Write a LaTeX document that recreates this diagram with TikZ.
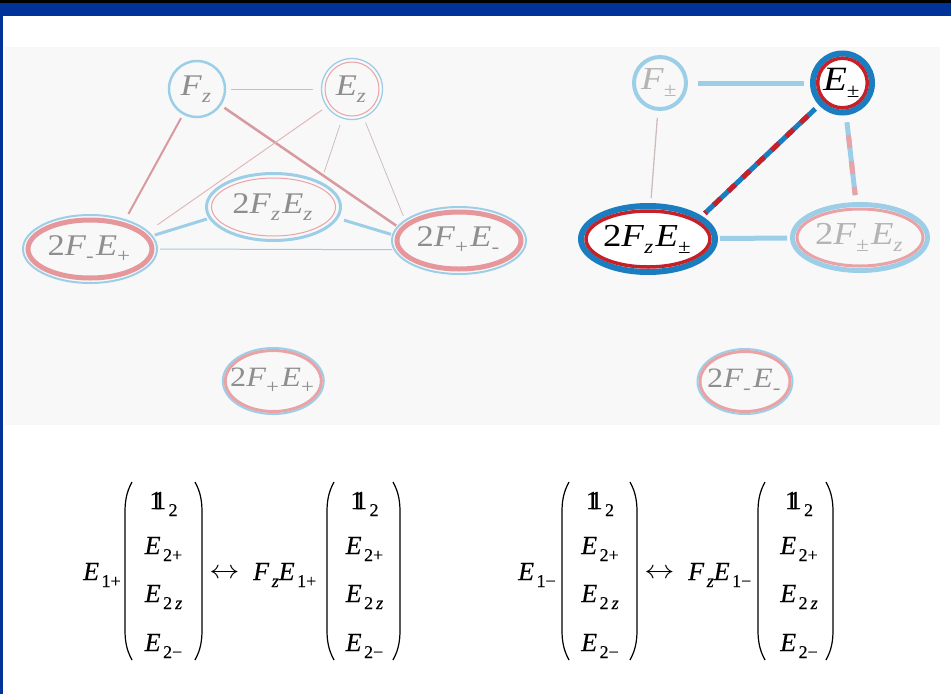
\documentclass[tikz,border=0pt]{standalone}
\usepackage{fontspec}
\setmainfont{Liberation Serif}
\newfontfamily\formfont[FakeBold=0.25]{Liberation Serif}
\usepackage{graphicx}
\IfFileExists{dsfont.sty}{\usepackage{dsfont}\newcommand\unitone{$\mathds{1}$}}{\newcommand\unitone{\rlap{1}\kern0.14em1}}
\usetikzlibrary{shapes.geometric}

\definecolor{barblue}{HTML}{003399}
\definecolor{panel}{HTML}{F8F8F8}
\definecolor{lblue}{HTML}{9CCFE7}
\definecolor{lpink}{HTML}{E9A2A5}
\definecolor{ringpink}{HTML}{E6979B}
\definecolor{rosy}{HTML}{D89A9F}
\definecolor{faint}{HTML}{CFBDBE}
\definecolor{thinpink}{HTML}{E4B7BA}
\definecolor{dblue}{HTML}{1A7DC0}
\definecolor{dred}{HTML}{C52129}
\definecolor{txtgray}{HTML}{8E8E8E}
\definecolor{txtpale}{HTML}{B4B4B4}

% node labels: large serif, subscripts lowered
\newcommand\nlab[2]{\makebox[0pt]{\scalebox{1.15}[1]{\fontsize{#1}{#1}\selectfont #2}}}
\newcommand\lo[1]{\raisebox{-7pt}{\fontsize{20}{20}\selectfont #1}\kern2pt}
% formula text
\newcommand\mlab[1]{{\fontsize{26}{26}\formfont\selectfont #1}}
\newcommand\mlo[1]{\kern2.5pt\raisebox{-7pt}{\fontsize{18}{18}\selectfont #1}}
\newcommand\harrow{\scalebox{1.45}[1.25]{\fontsize{22}{22}\selectfont$\leftrightarrow$}}

% a column vector (1, E2+, E2z, E2-) between tall parentheses
\newcommand\colvec[4]{%
  \draw[pline] (#3+7,482) .. controls (#3+1.5,492) and (#3,501) .. (#3,512) -- (#3,630) .. controls (#3,641) and (#3+1.5,650) .. (#3+7,660);
  \draw[pline] (#4-7,482) .. controls (#4-1.5,492) and (#4,501) .. (#4,512) -- (#4,630) .. controls (#4,641) and (#4-1.5,650) .. (#4-7,660);
  \node[ent] (#1-1) at (#2,509) {\mlab{\unitone\mlo{2}}};
  \node[ent] (#1-2) at (#2,554) {\mlab{\textit{E}\mlo{2+}}};
  \node[ent] (#1-3) at (#2,602) {\mlab{\textit{E}\mlo{2\,\textit{z}}}};
  \node[ent] (#1-4) at (#2,651) {\mlab{\textit{E}\mlo{2−}}};
}

\begin{document}
\begin{tikzpicture}[x=1pt,y=-1pt,
  ring/.style={ellipse, inner sep=0pt, fill=panel},
  ent/.style={anchor=base, inner sep=0pt},
  pline/.style={black, line width=1.2pt},
]
\useasboundingbox (0,0) rectangle (951,694);
% frame
\fill[white] (0,0) rectangle (951,694);
\fill[black] (0,0) rectangle (951,3);
\fill[barblue] (0,3) rectangle (951,16);
\fill[barblue] (0,16) rectangle (2.5,694);
\fill[panel] (5,47) rectangle (940,425);

% ---- left graph ----
\node[ring, draw=lblue, line width=2.5pt, minimum size=56pt, text=txtgray] (Fz) at (197,89)
  {\nlab{30}{\textit{F}\lo{\textit{z}}}};
\node[ring, draw=lblue, line width=1.3pt, minimum size=61pt, text=txtgray] (Ez) at (352,89)
  {\nlab{30}{\textit{E}\lo{\textit{z}}}};
\draw[lpink, line width=1pt] (Ez.center) circle[radius=27pt];

\node[ring, draw=lblue, line width=3pt, minimum width=134pt, minimum height=67pt, text=txtgray] (FzEz) at (273.5,207)
  {\nlab{30}{2\textit{F}\lo{\textit{z}}\textit{E}\lo{\textit{z}}}};
\draw[lpink, line width=1pt] (FzEz.center) ellipse[x radius=62pt, y radius=29pt];

\node[ring, draw=lblue, line width=2pt, minimum width=134pt, minimum height=68pt, text=txtgray] (FmEp) at (90,249)
  {\nlab{30}{2\textit{F}\lo{-}\textit{E}\lo{+}}};
\draw[ringpink, line width=5pt] (FmEp.center) ellipse[x radius=62pt, y radius=29pt];

\node[ring, draw=lblue, line width=2pt, minimum width=134pt, minimum height=67pt, text=txtgray] (FpEm) at (459,240.5)
  {\nlab{30}{2\textit{F}\lo{+}\textit{E}\lo{-}}};
\draw[ringpink, line width=5pt] (FpEm.center) ellipse[x radius=62pt, y radius=28.5pt];

\draw[lblue, line width=1pt, shorten <=5pt, shorten >=8pt] (Fz) -- (Ez);
\draw[rosy, line width=2pt, shorten <=4pt, shorten >=6pt] (Fz) -- (FmEp.40);
\draw[rosy, line width=2.5pt, shorten <=4pt, shorten >=1pt] (Fz) -- (FpEm.167);
\draw[thinpink, line width=1pt, shorten <=5pt, shorten >=11pt] (Ez) -- (FmEp.17);
\draw[faint, line width=0.8pt, shorten <=7pt, shorten >=10pt] (Ez) -- (FzEz.28);
\draw[faint, line width=0.8pt, shorten <=5pt, shorten >=4pt] (Ez) -- (FpEm.159);
\draw[lblue, line width=3pt, shorten <=2pt, shorten >=2pt] (FzEz.190) -- (FmEp.12);
\draw[lblue, line width=3pt, shorten <=6pt, shorten >=1pt] (FzEz.350) -- (FpEm.175);
\draw[lblue, line width=1pt, shorten <=2pt, shorten >=1pt] (FmEp.east) -- (FpEm.188);

% ---- right graph ----
\node[ring, draw=lblue, line width=4pt, minimum size=52pt, text=txtpale] (Fpm) at (660,83)
  {\nlab{32}{\textit{F}\lo{±}}};
\node[ring, fill=white, draw=dblue, line width=6pt, minimum size=59pt, text=black] (Epm) at (842.5,83)
  {\nlab{34}{\textit{E}\lo{±}}};
\draw[dred, line width=3.5pt] (Epm.center) circle[radius=24.8pt];

\node[ring, fill=white, draw=dblue, line width=6pt, minimum width=134pt, minimum height=66pt, text=black] (FzEpm) at (648,239)
  {\nlab{32}{2\textit{F}\lo{\textit{z}}\textit{E}\lo{±}}};
\draw[dred, line width=3.5pt] (FzEpm.center) ellipse[x radius=62pt, y radius=28pt];

\node[ring, draw=lblue, line width=5pt, minimum width=135pt, minimum height=66pt, text=txtpale] (FpmEz) at (860,237.5)
  {\nlab{32}{2\textit{F}\lo{±}\textit{E}\lo{\textit{z}}}};
\draw[lpink, line width=3pt] (FpmEz.center) ellipse[x radius=63pt, y radius=28.5pt];

\draw[lblue, line width=5pt, shorten <=10pt, shorten >=6pt] (Fpm) -- (Epm);
\draw[faint, line width=1.3pt, shorten <=7pt, shorten >=5pt] (Fpm) -- (FzEpm);
\draw[dblue, line width=5pt, shorten <=5pt, shorten >=4pt] (Epm) -- (FzEpm.23);
\draw[dred, line width=5pt, dash pattern=on 10pt off 10pt, dash phase=10pt, shorten <=5pt, shorten >=4pt] (Epm) -- (FzEpm.23);
\draw[lblue, line width=5pt, shorten <=7pt, shorten >=7pt] (Epm) -- (FpmEz);
\draw[lpink, line width=5pt, dash pattern=on 13pt off 13pt, dash phase=13pt, shorten <=7pt, shorten >=7pt] (Epm) -- (FpmEz);
\draw[lblue, line width=5pt, shorten <=2pt, shorten >=3pt] (FzEpm) -- (FpmEz);

% ---- isolated pair ----
\node[ring, draw=lblue, line width=2pt, minimum width=101pt, minimum height=66pt, text=txtgray] (FpEp) at (273.3,381)
  {\nlab{28}{2\textit{F}\lo{+}\textit{E}\lo{+}}};
\draw[lpink, line width=3pt] (FpEp.center) ellipse[x radius=48pt, y radius=30.5pt];
\node[ring, draw=lblue, line width=2pt, minimum width=95pt, minimum height=65pt, text=txtgray] (FmEm) at (745,381.5)
  {\nlab{28}{2\textit{F}\lo{-}\textit{E}\lo{-}}};
\draw[lpink, line width=3pt] (FmEm.center) ellipse[x radius=45pt, y radius=30pt];

% ---- formulas ----
\node[ent, anchor=base west] (Ea) at (83,580) {\mlab{\textit{E}\mlo{1+}}};
\colvec{va}{163.5}{125}{202}
\node[ent] (arra) at (224.5,578) {\harrow};
\node[ent, anchor=base west] (FEa) at (253,580) {\mlab{\textit{F}\mlo{\textit{z}}\textit{E}\mlo{1+}}};
\colvec{vb}{364.5}{327}{400}

\node[ent, anchor=base west] (Eb) at (518,580) {\mlab{\textit{E}\mlo{1−}}};
\colvec{vc}{600}{562}{637}
\node[ent] (arrb) at (659.5,578) {\harrow};
\node[ent, anchor=base west] (FEb) at (688,580) {\mlab{\textit{F}\mlo{\textit{z}}\textit{E}\mlo{1−}}};
\colvec{vd}{799}{758}{833}
\end{tikzpicture}
\end{document}
